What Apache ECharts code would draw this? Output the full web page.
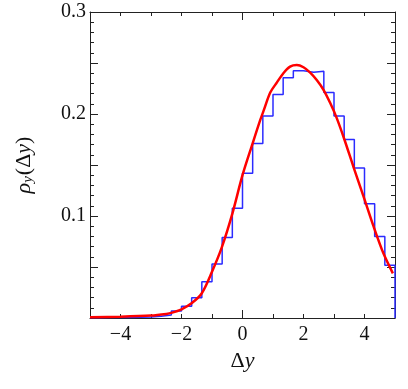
<!DOCTYPE html>
<html>
<head>
<meta charset="utf-8">
<script src="https://cdn.jsdelivr.net/npm/echarts@6/dist/echarts.min.js"></script>
<style>
  html, body { margin: 0; padding: 0; background: #fff; }
  #chart { width: 408px; height: 389px; }
</style>
</head>
<body>
<div id="chart"></div>
<script>
// histogram: 30 bins of width 1/3 from -5 to 5
const binStart = -5;
const binWidth = 1 / 3;
const binHeights = [
  0.0003, 0.0004, 0.0005, 0.0006, 0.0008, 0.0011, 0.0017, 0.003, 0.0069, 0.0115,
  0.0198, 0.0356, 0.053, 0.079, 0.1075, 0.142, 0.171, 0.198, 0.219, 0.2356,
  0.2425, 0.241, 0.2418, 0.221, 0.198, 0.175, 0.147, 0.112, 0.080, 0.0516
];

// fitted density curve
const curveX = [
  -5, -4, -3, -2.5, -2.33, -2.0, -1.67, -1.34, -1.0, -0.67, -0.33, 0.0, 0.33, 0.58,
  0.69, 0.91, 1.13, 1.34, 1.56, 1.78, 2.0, 2.22, 2.44, 2.66, 2.88, 3.09, 3.33, 3.64,
  3.97, 4.3, 4.62, 4.93
];
const curveY = [
  0.0008, 0.0013, 0.0024, 0.004, 0.005, 0.0085, 0.0144, 0.024, 0.0454, 0.070, 0.1026,
  0.140, 0.171, 0.194, 0.203, 0.221, 0.231, 0.240, 0.2464, 0.248, 0.2458, 0.2405,
  0.233, 0.2235, 0.2105, 0.196, 0.176, 0.148, 0.119, 0.0895, 0.0634, 0.0438
];

const xLabels = [-4, -2, 0, 2, 4];
const yLabels = [0.1, 0.2, 0.3];

const xMinorTicks = [];
for (let v = -4; v <= 4; v++) xMinorTicks.push(v);
const xMajorTicks = [0];
const yMinorTicks = [];
for (let i = 1; i <= 30; i++) yMinorTicks.push(+(i * 0.01).toFixed(2));
const yMajorTicks = [0.05, 0.1, 0.15, 0.2, 0.25, 0.3];

const histData = binHeights.map((h, i) => [binStart + i * binWidth, h]);
histData.push([binStart + binHeights.length * binWidth, binHeights[binHeights.length - 1]]);
histData.push([binStart + binHeights.length * binWidth, 0]);

const curveData = curveX.map((x, i) => [x, curveY[i]]);

const font = 'Liberation Serif, DejaVu Serif, serif';
const ink = '#222';

function xAxis(pos, ticks, len, labels, line) {
  return {
    type: 'value', position: pos, min: -5, max: 5,
    axisLine: { show: line, onZero: false, lineStyle: { color: ink, width: 1 } },
    axisTick: { show: true, inside: true, length: len, customValues: ticks, lineStyle: { color: ink } },
    axisLabel: labels ? {
      customValues: labels, margin: 7, color: '#111', fontFamily: font, fontSize: 20,
      formatter: v => (v < 0 ? '\u2212' + Math.abs(v) : String(v))
    } : { show: false },
    splitLine: { show: false }
  };
}

function yAxis(pos, ticks, len, labels, line) {
  return {
    type: 'value', position: pos, min: 0, max: 0.3,
    axisLine: { show: line, onZero: false, lineStyle: { color: ink, width: 1 } },
    axisTick: { show: true, inside: true, length: len, customValues: ticks, lineStyle: { color: ink } },
    axisLabel: labels ? {
      customValues: labels, margin: 4, color: '#111', fontFamily: font, fontSize: 20,
      formatter: v => v.toFixed(1)
    } : { show: false },
    splitLine: { show: false }
  };
}

const chart = echarts.init(document.getElementById('chart'));

const xMain = xAxis('bottom', xMinorTicks, 4, xLabels, true);
xMain.name = '{d|\u0394}{i|y}';
xMain.nameLocation = 'middle';
xMain.nameGap = 27;
xMain.nameTextStyle = {
  rich: {
    d: { fontFamily: font, fontSize: 22, color: '#111' },
    i: { fontFamily: font, fontStyle: 'italic', fontSize: 22, color: '#111' }
  }
};

const yMain = yAxis('left', yMinorTicks, 4, yLabels, true);
yMain.name = '{i|\u03c1}{s|y}{d|(\u0394}{i|y}{d|)}';
yMain.nameLocation = 'middle';
yMain.nameRotate = 90;
yMain.nameGap = 54;
yMain.nameTextStyle = {
  rich: {
    d: { fontFamily: font, fontSize: 22, color: '#111' },
    i: { fontFamily: font, fontStyle: 'italic', fontSize: 22, color: '#111' },
    s: { fontFamily: font, fontStyle: 'italic', fontSize: 15, color: '#111', padding: [8, 1, 0, 0] }
  }
};

chart.setOption({
  animation: false,
  grid: { left: 90, right: 13, top: 12, bottom: 71, containLabel: false },
  xAxis: [
    xMain,
    xAxis('bottom', xMajorTicks, 8, null, false),
    xAxis('top', xMinorTicks, 4, null, true),
    xAxis('top', xMajorTicks, 8, null, false)
  ],
  yAxis: [
    yMain,
    yAxis('left', yMajorTicks, 8, null, false),
    yAxis('right', yMinorTicks, 4, null, true),
    yAxis('right', yMajorTicks, 8, null, false)
  ],
  series: [
    {
      type: 'line', step: 'end', data: histData, symbol: 'none',
      xAxisIndex: 0, yAxisIndex: 0,
      lineStyle: { color: '#2b2bff', width: 1.5 }
    },
    {
      type: 'line', data: curveData, symbol: 'none', smooth: 0.3,
      xAxisIndex: 0, yAxisIndex: 0,
      lineStyle: { color: '#ff0000', width: 2.5 }
    }
  ]
});
</script>
</body>
</html>
